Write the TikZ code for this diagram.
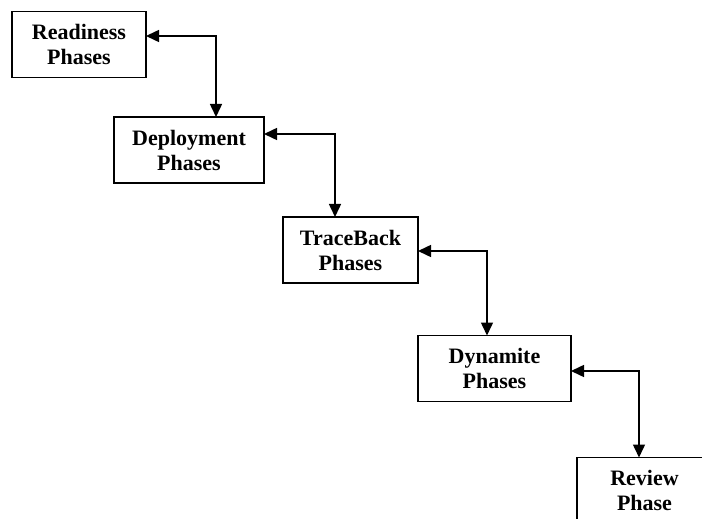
\documentclass[tikz,border=0pt]{standalone}
\usepackage{fontspec}
\setmainfont{Liberation Serif}
\usetikzlibrary{arrows.meta}
\tikzset{
  phase/.style = {draw=black, line width=0.75pt, align=center,
    inner sep=0pt, outer sep=0pt, minimum height=33pt,
    font=\bfseries\fontsize{11}{12.5}\selectfont},% one box per phase
  link/.style = {{Triangle[length=6.5pt,width=6pt]}-{Triangle[length=6.5pt,width=6pt]},
    line width=0.75pt},% two-way connector
}
\begin{document}
\begin{tikzpicture}[x=0.5pt,y=-0.5pt]
\useasboundingbox (0,0) rectangle (702,519);
\clip (0,0) rectangle (702,519);
\node [phase, minimum width=67pt] (ready) at (79,44.5) {Readiness\\Phases};
\node [phase, minimum width=75pt] (deploy) at (189,150) {Deployment\\Phases};
\node [phase, minimum width=67.5pt] (trace) at (350.5,250) {TraceBack\\Phases};
\node [phase, minimum width=76.5pt] (dyna) at (494.5,368.5) {Dynamite\\Phases};
\node [phase, minimum width=67.5pt] (review) at (644.5,490.5) {Review\\Phase};

\draw [link] ([yshift=4.25pt]ready.east) -| ([xshift=13.5pt]deploy.north);
\draw [link] ([yshift=8pt]deploy.east) -| ([xshift=-7.75pt]trace.north);
\draw [link] ([yshift=-0.5pt]trace.east) -| ([xshift=-3.75pt]dyna.north);
\draw [link] ([yshift=-1.25pt]dyna.east) -| ([xshift=-2.75pt]review.north);
\end{tikzpicture}
\end{document}
